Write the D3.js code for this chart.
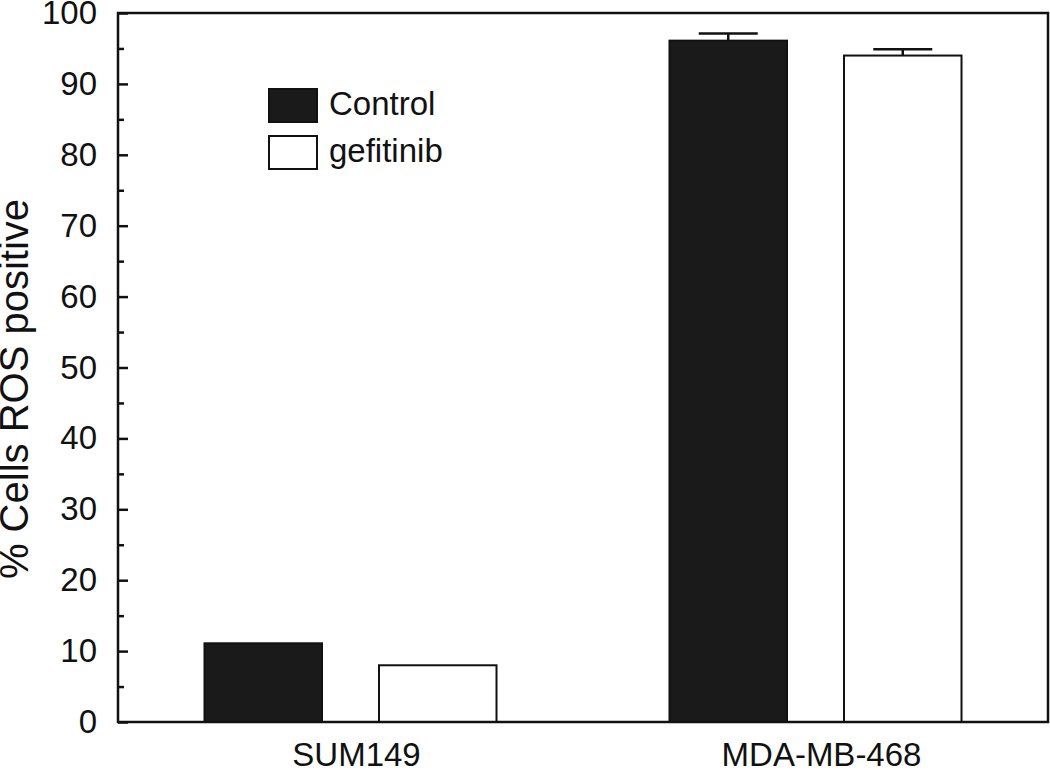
<!DOCTYPE html>
<html>
<head>
<meta charset="utf-8">
<script src="https://cdn.jsdelivr.net/npm/d3@7"></script>
<style>
  html, body { margin: 0; padding: 0; background: #fff; }
  svg { display: block; font-family: "Liberation Sans", Arial, sans-serif; }
</style>
</head>
<body>
<svg id="chart" width="1050" height="770"></svg>
<script>
const categories = ["SUM149", "MDA-MB-468"];
const seriesNames = ["Control", "gefitinib"];
const controlValues = [11.1, 96.1];
const gefitinibValues = [8.0, 94.0];
const controlErrors = [0, 1.0];
const gefitinibErrors = [0, 0.9];
const yTicks = [0, 10, 20, 30, 40, 50, 60, 70, 80, 90, 100];
const yMinorTicks = [5, 15, 25, 35, 45, 55, 65, 75, 85, 95];

const svg = d3.select("#chart");
const margin = { left: 118, right: 2, top: 13, bottom: 48 };
const W = 1050, H = 770;
const x0 = d3.scaleBand().domain(categories)
  .range([margin.left, W - margin.right])
  .paddingInner(0.372).paddingOuter(0.186);
const x1 = d3.scaleBand().domain(seriesNames)
  .range([0, x0.bandwidth()]).paddingInner(0.3266).paddingOuter(0);
const y = d3.scaleLinear().domain([0, 100]).range([H - margin.bottom, margin.top]);

const fills = { "Control": "#1a1a1a", "gefitinib": "#ffffff" };
const data = [];
categories.forEach((c, i) => {
  data.push({ cat: c, s: "Control", v: controlValues[i], e: controlErrors[i] });
  data.push({ cat: c, s: "gefitinib", v: gefitinibValues[i], e: gefitinibErrors[i] });
});

// bars
svg.append("g").selectAll("rect").data(data).join("rect")
  .attr("x", d => x0(d.cat) + x1(d.s))
  .attr("y", d => y(d.v))
  .attr("width", x1.bandwidth())
  .attr("height", d => y(0) - y(d.v))
  .attr("fill", d => fills[d.s])
  .attr("stroke", "#111")
  .attr("stroke-width", 2);

// error bars
const eg = svg.append("g").attr("stroke", "#111").attr("stroke-width", 2.5);
data.filter(d => d.e > 0).forEach(d => {
  const cx = x0(d.cat) + x1(d.s) + x1.bandwidth() / 2;
  eg.append("line").attr("x1", cx).attr("x2", cx).attr("y1", y(d.v)).attr("y2", y(d.v + d.e));
  eg.append("line").attr("x1", cx - 29.5).attr("x2", cx + 29.5).attr("y1", y(d.v + d.e)).attr("y2", y(d.v + d.e));
});

// frame
svg.append("rect")
  .attr("x", margin.left).attr("y", margin.top)
  .attr("width", W - margin.right - margin.left)
  .attr("height", y(0) - margin.top)
  .attr("fill", "none").attr("stroke", "#111").attr("stroke-width", 2.5);

// y axis
const yAxis = d3.axisLeft(y).tickValues(yTicks).tickSize(-10).tickPadding(21);
const ga = svg.append("g").attr("transform", `translate(${margin.left},0)`).call(yAxis);
ga.select(".domain").remove();
ga.selectAll(".tick line").attr("stroke", "#111").attr("stroke-width", 2.5);
ga.selectAll(".tick text").attr("font-size", 33).attr("fill", "#111")
  .attr("font-family", "Liberation Sans, Arial, sans-serif");
const yMinor = d3.axisLeft(y).tickValues(yMinorTicks).tickSize(-6).tickFormat("");
const gm = svg.append("g").attr("transform", `translate(${margin.left},0)`).call(yMinor);
gm.select(".domain").remove();
gm.selectAll(".tick line").attr("stroke", "#111").attr("stroke-width", 2.5);

// x labels
svg.append("g").selectAll("text").data(categories).join("text")
  .attr("x", d => x0(d) + x0.bandwidth() / 2 + 6)
  .attr("y", 766)
  .attr("text-anchor", "middle")
  .attr("font-size", 33)
  .attr("fill", "#111")
  .text(d => d);

// y label
svg.append("text")
  .attr("transform", `translate(28,389) rotate(-90)`)
  .attr("text-anchor", "middle")
  .attr("font-size", 40)
  .attr("fill", "#111")
  .text("% Cells ROS positive");

// legend
const leg = svg.append("g");
seriesNames.forEach((s, i) => {
  const yy = 89 + i * 47;
  leg.append("rect").attr("x", 269).attr("y", yy).attr("width", 48).attr("height", 33)
    .attr("fill", fills[s]).attr("stroke", "#111").attr("stroke-width", 2);
  leg.append("text").attr("x", 329).attr("y", yy + 26).attr("font-size", 33)
    .attr("fill", "#111").text(s);
});
</script>
</body>
</html>
